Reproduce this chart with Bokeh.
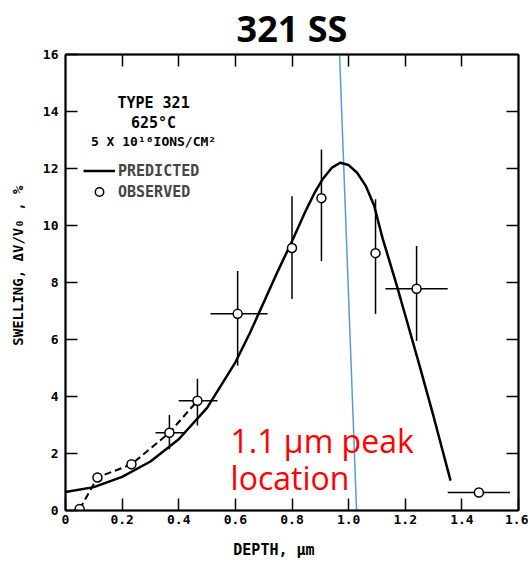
from bokeh.plotting import figure
from bokeh.models import (Label, LinearAxis, FixedTicker, Legend, LegendItem, Range1d, Title)
from bokeh.embed import file_html
from bokeh.resources import INLINE

# ---------------- data ----------------
title_text = "321 SS"
x_ticks = [0.0, 0.2, 0.4, 0.6, 0.8, 1.0, 1.2, 1.4, 1.6]
x_tick_labels = ["0", "0.2", "0.4", "0.6", "0.8", "1.0", "1.2", "1.4", "1.6"]
y_ticks = [0, 2, 4, 6, 8, 10, 12, 14, 16]

# predicted swelling profile (solid curve)
pred_x = [0.0, 0.1, 0.2, 0.3, 0.4, 0.5, 0.6, 0.65, 0.7, 0.75, 0.8, 0.85, 0.88,
          0.91, 0.94, 0.97, 1.0, 1.03, 1.06, 1.09, 1.12, 1.17, 1.2, 1.25, 1.3, 1.36]
pred_y = [0.65, 0.82, 1.18, 1.72, 2.5, 3.6, 5.2, 6.2, 7.3, 8.4, 9.45, 10.55, 11.15,
          11.65, 12.02, 12.2, 12.12, 11.85, 11.4, 10.7, 9.55, 7.9, 6.85, 5.1, 3.3, 1.05]

# observed swelling
obs_x = [0.05, 0.113, 0.233, 0.367, 0.466, 0.608, 0.80, 0.904, 1.095, 1.24, 1.46]
obs_y = [0.05, 1.16, 1.62, 2.73, 3.85, 6.90, 9.21, 10.96, 9.03, 7.78, 0.63]
# error bars (None = no bar)
obs_ylo = [None, None, None, 2.15, 2.98, 5.08, 7.42, 8.75, 6.90, 5.95, None]
obs_yhi = [None, None, None, 3.35, 4.62, 8.40, 11.03, 12.67, 10.92, 9.28, None]
obs_xlo = [None, None, None, 0.318, 0.40, 0.512, None, None, None, 1.13, 1.35]
obs_xhi = [None, None, None, 0.424, 0.537, 0.714, None, None, None, 1.35, 1.57]
n_dashed = 5  # dashed line joins the first observed points

# highlighted peak location line (blue)
peak_line_x = [0.968, 1.028]
peak_line_y = [16.0, 0.0]

info_lines = ["TYPE 321", "625°C", "5 X 10¹⁶IONS/CM²"]
peak_note = ["1.1 µm peak", "location"]
x_label = "DEPTH, µm"
y_label = "SWELLING, ΔV/V₀ , %"

# ---------------- figure ----------------
MONO = "DejaVu Sans Mono"
NB = "\u00a0"
p = figure(width=528, height=571, output_backend="svg", toolbar_location=None,
           x_range=Range1d(0, 1.6), y_range=Range1d(0, 16),
           x_axis_location=None, y_axis_location=None,
           min_border_left=65, min_border_right=10, min_border_top=53, min_border_bottom=61)
p.title = Title(text=title_text, align="center", text_font="Open Sans",
                text_font_style="bold", text_font_size="36px", text_color="black",
                standoff=3, offset=0)
p.xgrid.visible = False
p.ygrid.visible = False
p.outline_line_color = "black"
p.outline_line_width = 1.5
p.background_fill_color = "white"
p.border_fill_color = "white"

def make_axis(ticks, show_labels):
    ax = LinearAxis(ticker=FixedTicker(ticks=ticks))
    ax.axis_line_color = "black"
    ax.axis_line_width = 2
    ax.major_tick_in = 12
    ax.major_tick_out = 0
    ax.major_tick_line_width = 1.5
    ax.minor_tick_line_color = None
    if show_labels:
        ax.major_label_text_font = MONO
        ax.major_label_text_font_style = "bold"
        ax.major_label_text_font_size = "13px"
        ax.major_label_text_color = "black"
    else:
        ax.major_label_overrides = {t: "" for t in ticks}
        ax.major_label_text_font_size = "1px"
        ax.major_label_standoff = 0
    ax.axis_label_text_font = MONO
    ax.axis_label_text_font_style = "bold"
    ax.axis_label_text_color = "black"
    return ax

xb = make_axis(x_ticks, True)
xb.major_label_overrides = {t: s for t, s in zip(x_ticks, x_tick_labels)}
xb.major_label_standoff = 4
xb.axis_label = x_label + NB * 4
xb.axis_label_text_font_size = "15px"
xb.axis_label_standoff = 14
p.add_layout(xb, "below")

xt = make_axis(x_ticks[1:-1], False)
p.add_layout(xt, "above")

yl = make_axis(y_ticks, True)
yl.major_label_standoff = 7
yl.axis_label = NB * 4 + y_label
yl.axis_label_text_font_size = "14px"
yl.axis_label_standoff = 14
p.add_layout(yl, "left")

yr = make_axis(y_ticks[1:-1], False)
p.add_layout(yr, "right")

# blue peak line
p.line(peak_line_x, peak_line_y, line_color="#5b9bd5", line_width=1.5)

# predicted curve
pred_r = p.line(pred_x, pred_y, line_color="black", line_width=2.5)

# dashed line through first observations
p.line(obs_x[:n_dashed], obs_y[:n_dashed], line_color="black", line_width=2,
       line_dash="7 4")

# error bars
vx = [x for x, lo in zip(obs_x, obs_ylo) if lo is not None]
vlo = [lo for lo in obs_ylo if lo is not None]
vhi = [hi for hi in obs_yhi if hi is not None]
p.segment(x0=vx, y0=vlo, x1=vx, y1=vhi, line_color="black", line_width=1.5)
hy = [y for y, lo in zip(obs_y, obs_xlo) if lo is not None]
hlo = [lo for lo in obs_xlo if lo is not None]
hhi = [hi for hi in obs_xhi if hi is not None]
p.segment(x0=hlo, y0=hy, x1=hhi, y1=hy, line_color="black", line_width=1.5)

# observed points
obs_r = p.scatter(obs_x, obs_y, marker="circle", size=9, fill_color="white",
                  line_color="black", line_width=1.5)

# legend
legend = Legend(items=[LegendItem(label="PREDICTED", renderers=[pred_r]),
                       LegendItem(label="OBSERVED", renderers=[obs_r])],
                location=(18, 308), orientation="vertical")
legend.border_line_color = None
legend.background_fill_alpha = 0
legend.padding = 0
legend.margin = 0
legend.spacing = 0
legend.glyph_width = 32
legend.glyph_height = 21
legend.label_height = 21
legend.label_standoff = 3
legend.label_text_font = MONO
legend.label_text_font_style = "bold"
legend.label_text_font_size = "15px"
p.add_layout(legend, "center")

# info text
info_y = [14.29, 13.59, 12.96]
info_size = ["15px", "15px", "13px"]
for t, yy, fs in zip(info_lines, info_y, info_size):
    p.add_layout(Label(x=0.311, y=yy, text=t, text_align="center", text_baseline="middle",
                       text_font=MONO, text_font_style="bold", text_font_size=fs,
                       text_color="black"))

# red note
for t, yy in zip(peak_note, [2.45, 1.16]):
    p.add_layout(Label(x=0.583, y=yy, text=t, text_align="left", text_baseline="alphabetic",
                       text_font="Open Sans", text_font_size="32px", text_color="#ff0000"))

open("out.html", "w").write(file_html(p, INLINE))
